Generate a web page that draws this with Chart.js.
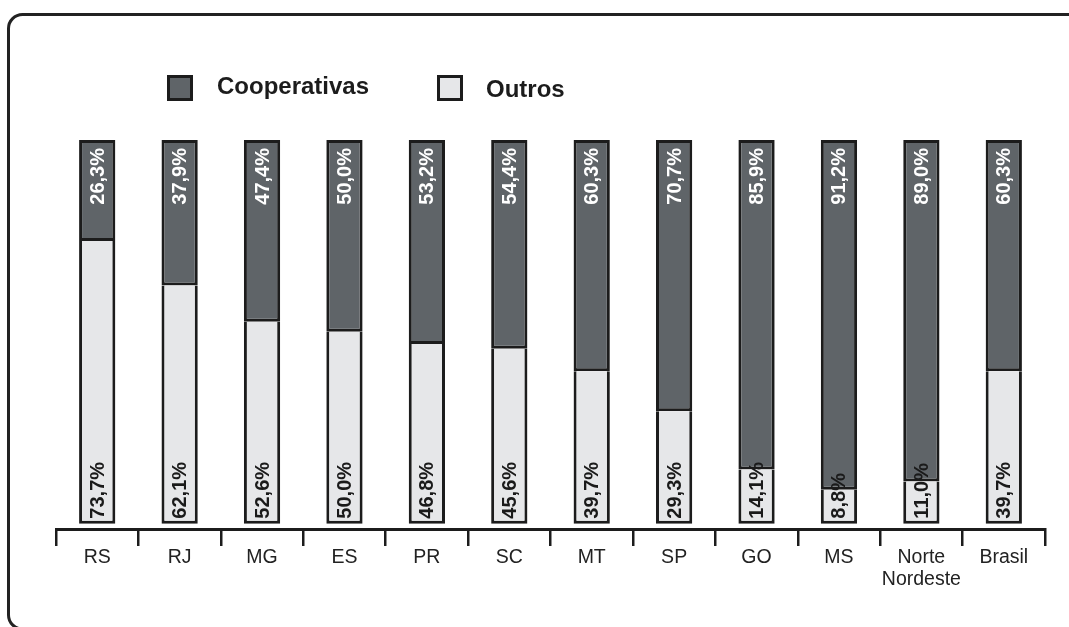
<!DOCTYPE html>
<html>
<head>
<meta charset="utf-8">
<script src="https://cdn.jsdelivr.net/npm/chart.js@4.4.1/dist/chart.umd.min.js"></script>
<style>
  html, body { margin: 0; padding: 0; background: #fff; overflow: hidden; }
  .wrap { position: relative; width: 1069px; height: 627px; overflow: hidden; font-family: "Liberation Sans", Arial, sans-serif; }
  .lg-box { position: absolute; width: 20px; height: 20px; border: 3px solid #1c1c1c; }
  .lg-txt { position: absolute; font-weight: bold; font-size: 24px; line-height: 26px; color: #1c1c1c; }
  canvas { position: absolute; left: 0; top: 0; }
</style>
</head>
<body>
<div class="wrap">
<canvas id="chart" width="1069" height="627"></canvas>
<div class="lg-box" style="left:167px; top:75px; background:#5f6468;"></div>
<div class="lg-txt" style="left:217px; top:73px;">Cooperativas</div>
<div class="lg-box" style="left:437px; top:75px; background:#e6e7e9;"></div>
<div class="lg-txt" style="left:486px; top:76px;">Outros</div>
</div>
<script>
// dados (%)
const categorias = ['RS', 'RJ', 'MG', 'ES', 'PR', 'SC', 'MT', 'SP', 'GO', 'MS', ['Norte', 'Nordeste'], 'Brasil'];
const cooperativas = [26.3, 37.9, 47.4, 50.0, 53.2, 54.4, 60.3, 70.7, 85.9, 91.2, 89.0, 60.3];
const outros = [73.7, 62.1, 52.6, 50.0, 46.8, 45.6, 39.7, 29.3, 14.1, 8.8, 11.0, 39.7];

const COR_COOP = '#5f6468';
const COR_OUTROS = '#e6e7e9';
const COR_BORDA = '#1c1c1c';

const fmt = v => v.toFixed(1).replace('.', ',') + '%';

// moldura arredondada (aberta à direita, base fora da tela)
const moldura = {
  id: 'moldura',
  beforeDraw(chart) {
    const ctx = chart.ctx;
    const l = 8.5, t = 14.5, b = 629, r = 14;
    ctx.save();
    ctx.strokeStyle = '#222';
    ctx.lineWidth = 3;
    ctx.beginPath();
    ctx.moveTo(chart.width + 10, t);
    ctx.lineTo(l + r, t);
    ctx.arcTo(l, t, l, t + r, r);
    ctx.lineTo(l, b - r);
    ctx.arcTo(l, b, l + r, b, r);
    ctx.lineTo(chart.width + 10, b);
    ctx.stroke();
    ctx.restore();
  }
};

// rótulos verticais dentro das barras
const rotulos = {
  id: 'rotulos',
  afterDatasetsDraw(chart) {
    const ctx = chart.ctx;
    const yScale = chart.scales.y;
    const base = yScale.getPixelForValue(0);
    const topo = yScale.getPixelForValue(100);
    const metaOutros = chart.getDatasetMeta(0);
    ctx.save();
    ctx.font = 'bold 20px "Liberation Sans", Arial, sans-serif';
    ctx.textBaseline = 'middle';
    metaOutros.data.forEach((bar, i) => {
      const x = bar.x + 1;
      // Outros: começa embaixo
      ctx.save();
      ctx.translate(x, base - 5);
      ctx.rotate(-Math.PI / 2);
      ctx.textAlign = 'left';
      ctx.fillStyle = '#1a1a1a';
      ctx.fillText(fmt(outros[i]), 0, 0);
      ctx.restore();
      // Cooperativas: termina no topo
      ctx.save();
      ctx.translate(x, topo + 8);
      ctx.rotate(-Math.PI / 2);
      ctx.textAlign = 'right';
      ctx.fillStyle = '#ffffff';
      ctx.fillText(fmt(cooperativas[i]), 0, 0);
      ctx.restore();
    });
    ctx.restore();
  }
};

new Chart(document.getElementById('chart'), {
  type: 'bar',
  data: {
    labels: categorias,
    datasets: [
      { label: 'Outros', data: outros, backgroundColor: COR_OUTROS, borderColor: COR_BORDA,
        borderWidth: { top: 0, left: 3, right: 3, bottom: 3 }, borderSkipped: false },
      { label: 'Cooperativas', data: cooperativas, backgroundColor: COR_COOP, borderColor: COR_BORDA,
        borderWidth: 3, borderSkipped: false }
    ]
  },
  options: {
    responsive: false,
    animation: false,
    layout: { padding: { left: 56, right: 24, top: 140, bottom: 0 } },
    datasets: { bar: { barPercentage: 0.44, categoryPercentage: 1 } },
    plugins: { legend: { display: false }, tooltip: { enabled: false } },
    scales: {
      x: {
        stacked: true,
        offset: true,
        afterFit: s => { s.height = 98; },
        grid: { offset: true, drawOnChartArea: false, drawTicks: true, tickLength: 17, color: COR_BORDA, lineWidth: 2.5 },
        border: { display: true, color: COR_BORDA, width: 3 },
        ticks: {
          color: '#222',
          padding: 1,
          maxRotation: 0,
          autoSkip: false,
          font: { family: '"Liberation Sans", Arial, sans-serif', size: 19.5, lineHeight: 1.1 }
        }
      },
      y: {
        stacked: true,
        display: false,
        min: -1.4,
        max: 100
      }
    }
  },
  plugins: [moldura, rotulos]
});
</script>
</body>
</html>
